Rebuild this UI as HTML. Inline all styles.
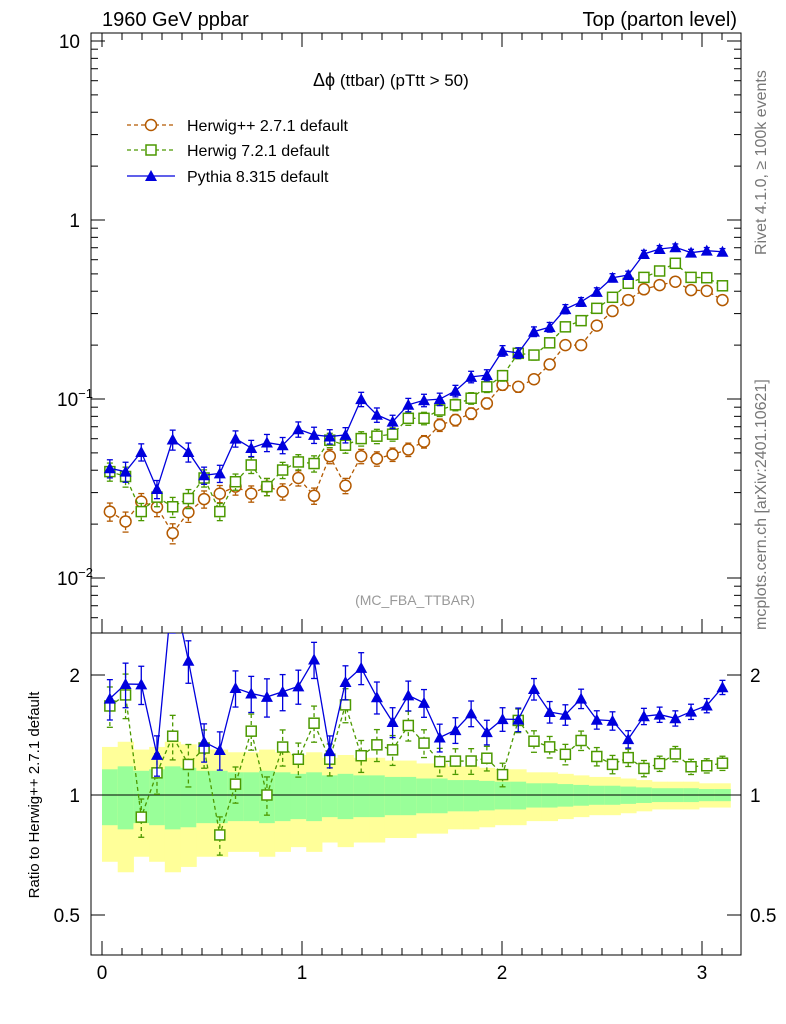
<!DOCTYPE html>
<html><head><meta charset="utf-8"><style>
body{margin:0;background:#fff;}
svg{display:block;font-family:"Liberation Sans",sans-serif;}
</style></head><body>
<svg id="c" width="786" height="1024" viewBox="0 0 786 1024"></svg>
<script>
const bins = 40;
const xMaxVal = Math.PI;
const pythia = [0.041,0.0393,0.0506,0.0314,0.0594,0.0506,0.0375,0.0384,0.0601,0.0532,0.0571,0.0552,0.0678,0.063,0.0617,0.063,0.0998,0.0816,0.0747,0.0928,0.0984,0.0998,0.111,0.133,0.136,0.186,0.181,0.238,0.252,0.318,0.349,0.397,0.476,0.493,0.646,0.689,0.704,0.657,0.674,0.665];
const herwig7 = [0.0393,0.0369,0.0235,0.0283,0.025,0.0278,0.0362,0.0235,0.0345,0.0428,0.0324,0.0401,0.0445,0.0436,0.0589,0.0552,0.0601,0.062,0.0636,0.078,0.078,0.0868,0.0928,0.101,0.117,0.135,0.180,0.176,0.206,0.253,0.274,0.321,0.370,0.443,0.478,0.519,0.573,0.478,0.476,0.429];
const herwigpp = [0.0235,0.0207,0.0267,0.0249,0.0178,0.0233,0.0276,0.0296,0.0324,0.0296,0.0324,0.0304,0.0362,0.0288,0.0479,0.0328,0.0479,0.0464,0.049,0.0522,0.0578,0.0716,0.0763,0.083,0.0946,0.120,0.117,0.129,0.156,0.200,0.200,0.257,0.310,0.357,0.410,0.433,0.452,0.406,0.402,0.357];
const relErr = [0.16,0.18,0.15,0.16,0.18,0.17,0.15,0.15,0.14,0.14,0.15,0.14,0.13,0.14,0.12,0.13,0.12,0.12,0.11,0.11,0.10,0.10,0.09,0.09,0.085,0.08,0.08,0.07,0.07,0.065,0.06,0.055,0.055,0.05,0.045,0.04,0.04,0.04,0.035,0.035];
const yTicks = [{v:10,t:"10"},{v:1,t:"1"},{v:0.1,t:"10",e:"−1"},{v:0.01,t:"10",e:"−2"}];
const xTicks = [0,1,2,3];
const rTicks = [{v:2,t:"2"},{v:1,t:"1"},{v:0.5,t:"0.5"}];

const NS="http://www.w3.org/2000/svg";
const svg=document.getElementById('c');
function el(tag,attrs,parent){const e=document.createElementNS(NS,tag);for(const k in attrs)e.setAttribute(k,attrs[k]);(parent||svg).appendChild(e);return e;}
const L=91,R=741,T=33,M=633,B=955;
const X=v=>102+v*200;
const Y=v=>220-Math.log10(v)*179;
const RY=v=>795-Math.log2(v)*120;
const bw=xMaxVal/bins;
const cx=i=>X((i+0.5)*bw);

const gBand=el('g',{});


for(let i=0;i<bins;i++){
  const x0=X(i*bw),x1=X((i+1)*bw);
  const e=relErr[i];
  const r1=el('rect',{x:x0,y:RY(1+2*e),width:x1-x0+0.5,height:RY(Math.max(1-2*e,0.45))-RY(1+2*e),fill:'#ffff99'},gBand);
  
  
  const r2=el('rect',{x:x0,y:RY(1+e),width:x1-x0+0.5,height:RY(1-e)-RY(1+e),fill:'#99ff99'},gBand);
  
  
}
el('line',{x1:L,x2:R,y1:RY(1),y2:RY(1),stroke:'#000','stroke-width':1});

const f1=el('rect',{x:L,y:T,width:R-L,height:M-T,fill:'none',stroke:'#000'});

const f2=el('rect',{x:L,y:M,width:R-L,height:B-M,fill:'none',stroke:'#000'});


for(const t of yTicks){
  const y=Y(t.v);
  el('line',{x1:L,x2:L+14,y1:y,y2:y,stroke:'#000'});el('line',{x1:R-14,x2:R,y1:y,y2:y,stroke:'#000'});
  const tx=el('text',{x:t.e?57:80,y:y+7,'font-size':19,'text-anchor':t.e?'start':'end'});
  
  tx.textContent=t.t;
  if(t.e){const s=el('tspan',{dy:-8,'font-size':13},tx);s.textContent=t.e;}
  for(let k=2;k<10;k++){const v=t.v*k;const yy=Y(v);if(yy>T&&yy<M){el('line',{x1:L,x2:L+7,y1:yy,y2:yy,stroke:'#000'});el('line',{x1:R-7,x2:R,y1:yy,y2:yy,stroke:'#000'});}}
}
for(let k=0.006;k<0.01;k+=0.001){const yy=Y(k);el('line',{x1:L,x2:L+7,y1:yy,y2:yy,stroke:'#000'});el('line',{x1:R-7,x2:R,y1:yy,y2:yy,stroke:'#000'});}
for(const v of xTicks){
  const x=X(v);
  for(const [a,b] of [[M,M-14],[B,B-14],[T,T+14]]) el('line',{x1:x,x2:x,y1:a,y2:b,stroke:'#000'});
  const tx=el('text',{x:x,y:979,'font-size':19,'text-anchor':'middle'});
  
  tx.textContent=v;
}
for(let v=0;v<3.2;v+=0.1){const x=X(v);for(const [a,b] of [[M,M-7],[B,B-7],[T,T+7]]) el('line',{x1:x,x2:x,y1:a,y2:b,stroke:'#000'});}
for(const t of rTicks){
  const y=RY(t.v);
  el('line',{x1:L,x2:L+14,y1:y,y2:y,stroke:'#000'});el('line',{x1:R-14,x2:R,y1:y,y2:y,stroke:'#000'});
  const a=el('text',{x:80,y:y+7,'font-size':19,'text-anchor':'end'});a.textContent=t.t;
  
  const b=el('text',{x:750,y:y+7,'font-size':19});b.textContent=t.t;
  
}

const series=[
 {name:'herwigpp',d:herwigpp,c:'#b35900',dash:'4,3',m:'circle'},
 {name:'herwig7',d:herwig7,c:'#4c9900',dash:'4,3',m:'square'},
 {name:'pythia',d:pythia,c:'#0000dd',dash:'',m:'tri'}];
function marker(g,m,x,y,c){
  if(m==='circle')return el('circle',{cx:x,cy:y,r:5.5,fill:'#fff',stroke:c,'stroke-width':1.5},g);
  if(m==='square')return el('rect',{x:x-5,y:y-5,width:10,height:10,fill:'#fff',stroke:c,'stroke-width':1.5},g);
  return el('polygon',{points:`${x},${y-6} ${x-6},${y+5} ${x+6},${y+5}`,fill:c},g);
}
function draw(s,yf,valf,clipTop,clipBot,tag){
  const g=el('g',{});
  
  const pts=[];
  for(let i=0;i<bins;i++){
    const v=valf(i);const e=relErr[i]*0.6+0.02;
    const x=cx(i),y=yf(v);
    pts.push([x,y]);
    const y1=Math.max(yf(v*(1+e)),clipTop),y2=Math.min(yf(v*(1-e)),clipBot);
    el('line',{x1:x,x2:x,y1:y1,y2:y2,stroke:s.c,'stroke-width':1.3,'stroke-dasharray':s.dash},g);
    el('line',{x1:x-3,x2:x+3,y1:y1,y2:y1,stroke:s.c,'stroke-width':1.3},g);
    el('line',{x1:x-3,x2:x+3,y1:y2,y2:y2,stroke:s.c,'stroke-width':1.3},g);
  }
  el('polyline',{points:pts.map(p=>p.join(',')).join(' '),fill:'none',stroke:s.c,'stroke-width':1.3,'stroke-dasharray':s.dash},g);
  for(const [x,y] of pts) if(y>clipTop&&y<clipBot) marker(g,s.m,x,y,s.c);
}
const cp=el('clipPath',{id:'rc'});el('rect',{x:L,y:M,width:R-L,height:B-M},cp);
for(const s of series){
  draw(s,Y,i=>s.d[i],T,M,'main');
  if(s.name!=='herwigpp'){ draw(s,RY,i=>s.d[i]/herwigpp[i],M,B,'ratio'); svg.lastChild.setAttribute('clip-path','url(#rc)'); }
}

function txt(x,y,s,t,attrs,name){const e=el('text',Object.assign({x:x,y:y,'font-size':s},attrs||{}));e.textContent=t;return e;}
txt(102,26,20,'1960 GeV ppbar',{},'collider-label');
txt(737,26,20,'Top (parton level)',{'text-anchor':'end'},'process-label');
const tt=txt(313,86,18,'Δϕ',{},'plot-title');const tsp=el('tspan',{'font-size':17},tt);tsp.textContent=' (ttbar) (pTtt > 50)';
txt(415,605,14,'(MC_FBA_TTBAR)',{'text-anchor':'middle',fill:'#999'},'analysis-name');
txt(766,255,16,'Rivet 4.1.0, ≥ 100k events',{transform:'rotate(-90 766 255)',fill:'#777'},'rivet-label');
txt(766,630,16,'mcplots.cern.ch [arXiv:2401.10621]',{transform:'rotate(-90 766 630)',fill:'#777'},'mcplots-label');
txt(39,795,15,'Ratio to Herwig++ 2.7.1 default',{transform:'rotate(-90 39 795)','text-anchor':'middle'},'ratio-axis-title');

const leg=[['Herwig++ 2.7.1 default',series[0],125],['Herwig 7.2.1 default',series[1],150],['Pythia 8.315 default',series[2],176]];
for(const [t,s,y] of leg){
  const g=el('g',{});
  el('line',{x1:127,x2:175,y1:y,y2:y,stroke:s.c,'stroke-width':1.3,'stroke-dasharray':s.dash},g);
  marker(g,s.m,151,y,s.c);
  const e=el('text',{x:187,y:y+6,'font-size':16},g);e.textContent=t;
}
</script>
</body></html>
